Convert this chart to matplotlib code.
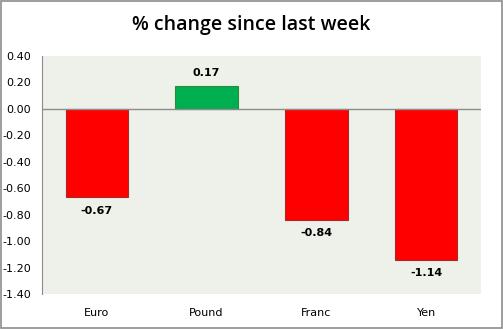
import matplotlib.pyplot as plt

currencies = ["Euro", "Pound", "Franc", "Yen"]
changes = [-0.67, 0.17, -0.84, -1.14]
y_ticks = [0.40, 0.20, 0.00, -0.20, -0.40, -0.60, -0.80, -1.00, -1.20, -1.40]

fig = plt.figure(figsize=(5.03, 3.29), dpi=100)
ax = fig.add_axes([42 / 503, 35 / 329, 439 / 503, 238 / 329])

colors = ["#00B050" if v > 0 else "#FF0000" for v in changes]
edges = ["#2E8B3E" if v > 0 else "#A52A2A" for v in changes]
x = range(len(currencies))
ax.bar(x, changes, width=0.57, color=colors, edgecolor=edges, linewidth=0.8, zorder=2)

for i, v in enumerate(changes):
    off = 0.1 if v > 0 else -0.1
    ax.text(i, v + off, f"{v:.2f}", ha="center", va="center",
            fontsize=8, fontweight="bold", family="DejaVu Sans")

ax.set_facecolor("#EEF1E9")
ax.set_xlim(-0.5, len(currencies) - 0.5)
ax.set_ylim(-1.4, 0.4)
ax.set_yticks(y_ticks)
ax.set_yticklabels([f"{t:.2f}" for t in y_ticks])
ax.set_xticks(list(x))
ax.set_xticklabels(currencies)
ax.tick_params(axis="both", length=0, labelsize=8)
ax.tick_params(axis="x", pad=10)
ax.tick_params(axis="y", pad=8)

ax.axhline(0, color="#8C8C8C", linewidth=1, zorder=3)
for side in ["top", "right", "bottom"]:
    ax.spines[side].set_visible(False)
ax.spines["left"].set_color("#8C8C8C")

fig.text(0.5, 1 - 25 / 329, "% change since last week", ha="center", va="center",
         fontsize=14, fontweight="semibold", family="Open Sans")
fig.patches.append(plt.Rectangle((0.001, 0.002), 0.997, 0.995, transform=fig.transFigure,
                                 fill=False, edgecolor="#8C8C8C", linewidth=1.2))

fig.savefig("out.png", dpi=100)
